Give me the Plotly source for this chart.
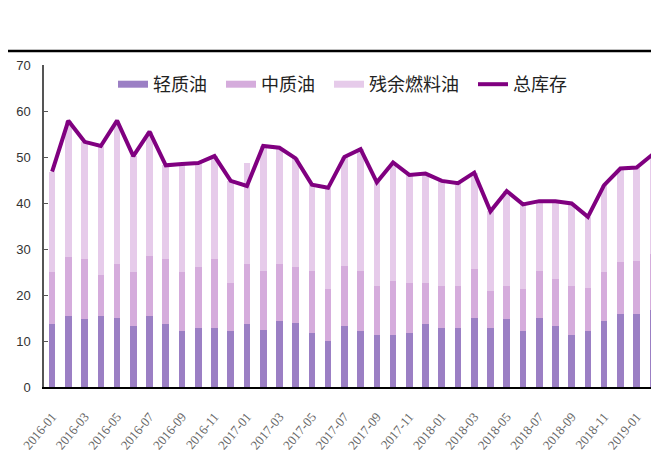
# -*- coding: utf-8 -*-

import plotly.graph_objs as go

months = [f'{y}-{m:02d}' for y in (2016, 2017, 2018) for m in range(1, 13)] + ['2019-01', '2019-02']

light_oil = [13.6, 15.4, 14.7, 15.4, 15.0, 13.2, 15.4, 13.6, 12.1, 12.8, 12.8, 12.1,
             13.6, 12.5, 14.3, 13.9, 11.8, 9.9, 13.2, 12.1, 11.4, 11.4, 11.8, 13.6,
             12.8, 12.8, 15.0, 12.8, 14.7, 12.1, 15.0, 13.2, 11.4, 12.1, 14.3, 15.8,
             15.8, 16.8]
middle_oil = [11.3, 12.8, 13.1, 9.0, 11.7, 11.7, 13.1, 14.2, 12.8, 13.2, 15.0, 10.6,
              13.1, 12.7, 12.4, 12.1, 13.4, 11.4, 13.1, 13.1, 10.6, 11.7, 10.9, 9.1,
              9.2, 9.2, 10.6, 8.1, 7.3, 9.2, 10.2, 10.2, 10.6, 9.5, 10.6, 11.3,
              11.6, 12.1]
residual_oil = [21.9, 29.7, 25.5, 28.0, 31.2, 25.3, 27.0, 20.4, 23.6, 22.7, 22.4, 22.1,
                21.9, 27.2, 25.3, 23.7, 18.8, 22.0, 23.7, 26.5, 22.5, 25.7, 23.4, 23.7,
                22.8, 22.3, 21.0, 17.3, 20.6, 18.4, 15.2, 17.0, 17.9, 15.4, 19.0, 20.4,
                20.3, 21.7]
total_stock = [46.8, 57.9, 53.3, 52.4, 57.9, 50.2, 55.5, 48.2, 48.5, 48.7, 50.2, 44.8,
               43.7, 52.4, 52.0, 49.7, 44.0, 43.3, 50.0, 51.7, 44.5, 48.8, 46.1, 46.4,
               44.8, 44.3, 46.6, 38.2, 42.6, 39.7, 40.4, 40.4, 39.9, 37.0, 43.9, 47.5,
               47.7, 50.6]

bar_series = [('轻质油', light_oil, '#9b7fc4'),
              ('中质油', middle_oil, '#d5acdc'),
              ('残余燃料油', residual_oil, '#e6cbea')]

W, H = 659, 453
# the page body adds an 8px offset, margins are chosen so the plot lands
# at x 44..659, y 65..387 on screen
ml, mr, mt, mb = 36, 8, 57, 74
plot_w, plot_h = W - ml - mr, H - mt - mb

fig = go.Figure()
for name, vals, color in bar_series:
    fig.add_trace(go.Bar(x=months, y=vals, name=name, marker_color=color,
                         marker_line_width=0, showlegend=False))
# wide legend swatches like the original; en space widens the gap between items
for name, vals, color in bar_series:
    fig.add_trace(go.Scatter(x=[None], y=[None], mode='lines', name=name + '\u2002',
                             line=dict(color=color, width=7)))
fig.add_trace(go.Scatter(x=months, y=total_stock, mode='lines', name='总库存',
                         line=dict(color='#800080', width=4)))

header_y = 1 + (mt - 43) / plot_h
fig.add_shape(type='line', xref='paper', yref='paper', x0=-ml / plot_w, x1=1.02,
              y0=header_y, y1=header_y, line=dict(color='black', width=2.5))

fig.update_layout(
    width=W, height=H, barmode='stack', bargap=0.59,
    margin=dict(l=ml, r=mr, t=mt, b=mb, autoexpand=False),
    paper_bgcolor='white', plot_bgcolor='white',
    font=dict(family='Noto Sans CJK SC', color='#222'),
    legend=dict(orientation='h', x=(113 - ml - 8) / plot_w, xanchor='left',
                y=1 - (66 - mt - 8) / plot_h, yanchor='top', traceorder='normal',
                font=dict(size=18, color='#222'), itemwidth=30,
                bgcolor='rgba(0,0,0,0)'),
)
fig.update_xaxes(type='category', range=[-0.5, 37.38], automargin=False,
                 tickvals=months[::2], ticktext=months[::2], tickangle=-50,
                 tickfont=dict(family='Liberation Serif', size=13, color='#666'),
                 ticklabelstandoff=15,
                 showline=True, linecolor='black', linewidth=2, ticks='',
                 showgrid=False, zeroline=False)
fig.update_yaxes(range=[0, 70], dtick=10, showgrid=False, zeroline=False,
                 automargin=False,
                 showline=True, linecolor='#555', linewidth=1.5,
                 ticks='inside', ticklen=4, tickcolor='#555', ticklabelstandoff=9,
                 tickfont=dict(family='Liberation Sans', size=13, color='#333'))

fig.write_html("out.html")
